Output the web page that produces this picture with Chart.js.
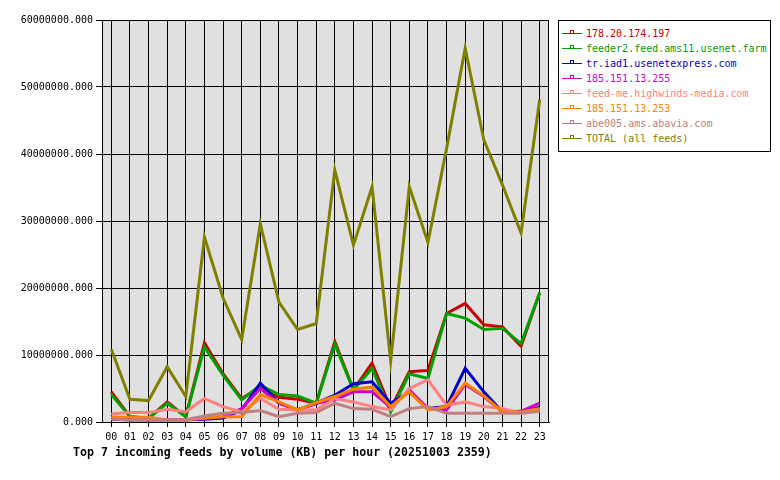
<!DOCTYPE html>
<html>
<head>
<meta charset="utf-8">
<script src="https://cdn.jsdelivr.net/npm/chart.js@4"></script>
<style>
  body { margin: 0; background: #fff; }
  #wrap { position: relative; width: 780px; height: 480px; font-family: "DejaVu Sans Mono", monospace; }
  #legend { position: absolute; left: 558px; top: 20px; width: 211px; height: 125px; border: 1px solid #000; background: #fff; padding-top: 5px; box-sizing: content-box; }
  .row { position: relative; height: 15px; font-size: 10px; line-height: 15px; white-space: nowrap; }
  .row .ln { position: absolute; left: 3px; top: 7px; width: 20px; height: 1px; }
  .row .mk { position: absolute; left: 11px; top: 4px; width: 2px; height: 2px; border: 1px solid; border-bottom: none; }
  .row .tx { position: absolute; left: 27px; top: 0; }
  #title { position: absolute; left: 73px; top: 445px; font-size: 11.6px; font-weight: bold; white-space: nowrap; }
</style>
</head>
<body>
<div id="wrap">
  <canvas id="feedsChart" width="780" height="480"></canvas>
  <div id="legend"></div>
  <div id="title">Top 7 incoming feeds by volume (KB) per hour (20251003 2359)</div>
</div>
<script>
// hours on the x axis
const hours = ['00','01','02','03','04','05','06','07','08','09','10','11',
               '12','13','14','15','16','17','18','19','20','21','22','23'];

// feed names, in legend order
const feedNames = ['178.20.174.197', 'feeder2.feed.ams11.usenet.farm', 'tr.iad1.usenetexpress.com',
                   '185.151.13.255', 'feed-me.highwinds-media.com', '185.151.13.253',
                   'abe005.ams.abavia.com', 'TOTAL (all feeds)'];
const feedColors = ['#cc0000', '#00a000', '#0000cc', '#cc00cc', '#ff8080', '#ff8000', '#c08080', '#808000'];

// values per hour, in millions of KB
const feedRed    = [4.5, 0.8, 0.55, 3.0, 0.8, 11.8, 7.2, 3.5, 5.2, 3.7, 3.4, 2.8, 12.0, 4.8, 8.8, 2.0, 7.5, 7.7, 16.2, 17.7, 14.5, 14.2, 11.3, 19.3];
const feedGreen  = [4.1, 0.8, 0.55, 2.8, 0.8, 11.2, 7.0, 3.3, 5.5, 4.1, 3.9, 2.8, 11.6, 4.8, 8.0, 1.5, 7.2, 6.5, 16.2, 15.5, 13.8, 14.0, 11.7, 19.3];
const feedBlue   = [0.4, 0.35, 0.35, 0.35, 0.35, 0.4, 0.6, 1.8, 5.8, 2.8, 1.8, 2.8, 4.0, 5.7, 6.0, 2.8, 4.5, 2.0, 2.3, 8.0, 4.5, 1.5, 1.5, 2.2];
const feedPurple = [0.4, 0.35, 0.35, 0.35, 0.35, 0.5, 0.8, 2.0, 5.0, 2.8, 1.8, 2.8, 3.3, 4.5, 4.5, 2.2, 4.8, 2.0, 1.8, 5.6, 3.8, 1.5, 1.6, 2.8];
const feedPink   = [1.2, 1.45, 1.4, 1.9, 1.55, 3.5, 2.3, 1.5, 3.5, 1.9, 1.8, 1.8, 3.5, 3.0, 2.3, 1.8, 5.0, 6.3, 2.5, 3.0, 2.3, 2.0, 1.3, 1.8];
const feedOrange = [0.7, 0.7, 0.7, 0.3, 0.3, 0.6, 0.8, 0.8, 4.1, 3.0, 1.8, 2.9, 3.8, 4.9, 5.2, 2.3, 4.5, 1.8, 2.3, 5.8, 3.9, 1.5, 1.5, 2.0];
const feedRosy   = [0.45, 0.35, 0.35, 0.35, 0.35, 0.9, 1.3, 1.4, 1.7, 0.8, 1.3, 1.4, 2.8, 2.0, 1.9, 0.8, 2.0, 2.3, 1.3, 1.3, 1.3, 1.3, 1.3, 1.6];
const feedTotal  = [10.85, 3.4, 3.2, 8.25, 3.8, 27.6, 18.5, 12.3, 29.6, 17.9, 13.8, 14.7, 37.6, 26.4, 35.1, 9.1, 35.1, 26.8, 40.8, 55.8, 42.1, 35.4, 28.2, 48.1];

const yTicksMax = 60000000;
const yTickStep = 10000000;

const allSeries = [feedRed, feedGreen, feedBlue, feedPurple, feedPink, feedOrange, feedRosy, feedTotal];

// gray plot background plus full frame
const plotFrame = {
  id: 'plotFrame',
  beforeDraw(chart) {
    const a = chart.chartArea, ctx = chart.ctx;
    ctx.save();
    ctx.fillStyle = '#e0e0e0';
    ctx.fillRect(a.left, a.top, a.right - a.left, a.bottom - a.top);
    ctx.restore();
  },
  afterDraw(chart) {
    const a = chart.chartArea, ctx = chart.ctx;
    ctx.save();
    ctx.strokeStyle = '#000';
    ctx.lineWidth = 1;
    ctx.strokeRect(a.left + 0.5, a.top + 0.5, a.right - a.left - 1, a.bottom - a.top);
    ctx.restore();
  }
};

const tickFont = { family: 'DejaVu Sans Mono', size: 10 };

new Chart(document.getElementById('feedsChart').getContext('2d'), {
  type: 'line',
  data: {
    labels: hours,
    datasets: allSeries.map((s, i) => ({
      label: feedNames[i],
      data: s.map(v => v * 1000000),
      borderColor: feedColors[i],
      borderWidth: 3,
      pointRadius: 0,
      tension: 0,
      fill: false,
      order: allSeries.length - i // later feeds painted on top
    }))
  },
  options: {
    responsive: false,
    animation: false,
    devicePixelRatio: 1,
    layout: { padding: { left: 0, top: 20, right: 231, bottom: 0 } },
    plugins: { legend: { display: false }, tooltip: { enabled: false } },
    scales: {
      x: {
        offset: true,
        grid: { color: '#000', lineWidth: 1, tickLength: 5, offset: false },
        border: { color: '#000' },
        ticks: { color: '#000', font: tickFont, maxRotation: 0, autoSkip: false, padding: 4 },
        afterFit(scale) { scale.height = 58; }
      },
      y: {
        min: 0,
        max: yTicksMax,
        grid: { color: '#000', lineWidth: 1, tickLength: 6 },
        border: { color: '#000' },
        ticks: {
          stepSize: yTickStep,
          color: '#000',
          font: tickFont,
          padding: 3,
          callback: v => v.toFixed(3)
        },
        afterFit(scale) { scale.width = 102; }
      }
    }
  },
  plugins: [plotFrame]
});

// legend box
const legend = document.getElementById('legend');
feedNames.forEach((name, i) => {
  const row = document.createElement('div');
  row.className = 'row';
  row.innerHTML = '<span class="ln" style="background:' + feedColors[i] + '"></span>' +
    '<span class="mk" style="border-color:' + feedColors[i] + '"></span>' +
    '<span class="tx" style="color:' + feedColors[i] + '">' + name + '</span>';
  legend.appendChild(row);
});
</script>
</body>
</html>
